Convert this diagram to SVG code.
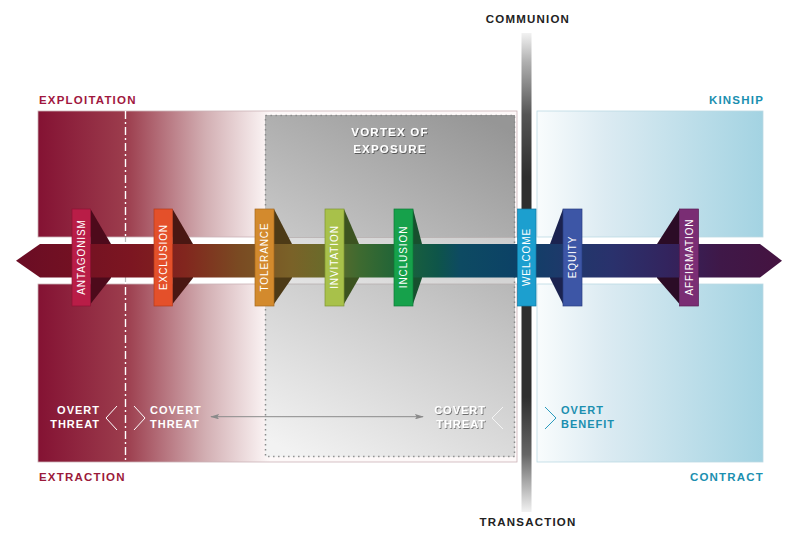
<svg xmlns="http://www.w3.org/2000/svg" width="800" height="539" viewBox="0 0 800 539">
<style>
.hd{font-family:"Liberation Sans",Arial,sans-serif;font-weight:bold;font-size:11.5px;letter-spacing:1.2px}
.lb{font-family:"Liberation Sans",Arial,sans-serif;font-weight:bold;font-size:11px;letter-spacing:1px}
.pt{font-family:"Liberation Sans",Arial,sans-serif;font-size:10px;letter-spacing:0.9px;fill:#fff;text-anchor:middle}
.pill{stroke-width:0.7}
.chev{fill:none;stroke-width:1}
</style>
<defs>
<linearGradient id="gLeft" x1="38" y1="0" x2="270" y2="0" gradientUnits="userSpaceOnUse">
<stop offset="0" stop-color="#841233"/>
<stop offset="0.38" stop-color="#9c3d4d"/>
<stop offset="0.72" stop-color="#d2aeb2"/>
<stop offset="1" stop-color="#fdf8f8"/>
</linearGradient>
<linearGradient id="gRight" x1="537" y1="0" x2="763" y2="0" gradientUnits="userSpaceOnUse">
<stop offset="0" stop-color="#f9fcfd"/>
<stop offset="0.3" stop-color="#dcebf2"/>
<stop offset="1" stop-color="#a3d3e2"/>
</linearGradient>
<linearGradient id="gGrey" x1="300" y1="457" x2="480" y2="115" gradientUnits="userSpaceOnUse">
<stop offset="0" stop-color="#f2f2f2"/>
<stop offset="0.5" stop-color="#c6c6c6"/>
<stop offset="1" stop-color="#969696"/>
</linearGradient>
<linearGradient id="gBar" x1="0" y1="33" x2="0" y2="512" gradientUnits="userSpaceOnUse">
<stop offset="0" stop-color="#f2f2f2"/>
<stop offset="0.06" stop-color="#b0b0b0"/>
<stop offset="0.17" stop-color="#555"/>
<stop offset="0.3" stop-color="#2e2e2e"/>
<stop offset="0.76" stop-color="#2e2e2e"/>
<stop offset="0.88" stop-color="#666"/>
<stop offset="1" stop-color="#f2f2f2"/>
</linearGradient>
<linearGradient id="gBand" x1="16" y1="0" x2="782" y2="0" gradientUnits="userSpaceOnUse">
<stop offset="0" stop-color="#6a0c24"/>
<stop offset="0.15" stop-color="#7c1621"/>
<stop offset="0.22" stop-color="#82261e"/>
<stop offset="0.29" stop-color="#7a4a22"/>
<stop offset="0.36" stop-color="#7a6228"/>
<stop offset="0.4" stop-color="#6b6a2a"/>
<stop offset="0.45" stop-color="#3d6a30"/>
<stop offset="0.5" stop-color="#1e6438"/>
<stop offset="0.55" stop-color="#0e5549"/>
<stop offset="0.58" stop-color="#0d4a62"/>
<stop offset="0.65" stop-color="#0c4266"/>
<stop offset="0.72" stop-color="#1f386b"/>
<stop offset="0.78" stop-color="#2a316c"/>
<stop offset="0.85" stop-color="#33245e"/>
<stop offset="0.92" stop-color="#3f1848"/>
<stop offset="1" stop-color="#451340"/>
</linearGradient>
<filter id="sh" x="-20%" y="-50%" width="140%" height="200%">
<feDropShadow dx="0.8" dy="0.9" stdDeviation="0.6" flood-color="#000" flood-opacity="0.55"/>
</filter>
<marker id="ah" viewBox="0 0 10 6" refX="9" refY="3" markerWidth="9" markerHeight="5.5" orient="auto-start-reverse" markerUnits="userSpaceOnUse">
<path d="M0,0 L10,3 L0,6 L2,3 Z" fill="#8a8a8a"/>
</marker>
</defs>

<!-- background panels -->
<g id="panels">
<rect x="38" y="111" width="479" height="126" fill="url(#gLeft)" stroke="#cbb2b6" stroke-width="0.8"/>
<rect x="38" y="284" width="479" height="178" fill="url(#gLeft)" stroke="#cbb2b6" stroke-width="0.8"/>
<rect x="537" y="111" width="226" height="126" fill="url(#gRight)" stroke="#bcd9e3" stroke-width="0.8"/>
<rect x="537" y="284" width="226" height="178" fill="url(#gRight)" stroke="#bcd9e3" stroke-width="0.8"/>
<line x1="125.5" y1="111" x2="125.5" y2="462" stroke="#fff" stroke-width="1.4" stroke-dasharray="8 3 2 3"/>
<line x1="125.5" y1="237" x2="125.5" y2="284" stroke="#bbb" stroke-width="1.2" stroke-dasharray="5 3"/>
</g>

<g id="vortex">
<rect x="265" y="115" width="250" height="342" fill="url(#gGrey)"/>
<rect x="265" y="237.5" width="250" height="46.5" fill="#fff" opacity="0.4"/>
<line x1="265" y1="237.5" x2="515" y2="237.5" stroke="#b8b0b0" stroke-width="0.8"/>
<line x1="265" y1="284" x2="515" y2="284" stroke="#b8b0b0" stroke-width="0.8"/>
<rect x="265.5" y="115.5" width="249" height="341" fill="none" stroke="#8a8a8a" stroke-width="1.5" stroke-dasharray="1.4 3.6"/>
<g class="hd" fill="#fff" text-anchor="middle" filter="url(#sh)">
<text x="390" y="136">VORTEX OF</text>
<text x="390" y="152.5">EXPOSURE</text>
</g>
</g>

<!-- axis -->
<g id="axis">
<rect x="521.5" y="33" width="10" height="479" fill="url(#gBar)"/>
<text class="hd" x="528" y="23.3" fill="#222" text-anchor="middle" font-size="10.5" letter-spacing="2.2">COMMUNION</text>
<text class="hd" x="528" y="526" fill="#222" text-anchor="middle" font-size="11" letter-spacing="2.2">TRANSACTION</text>
</g>

<!-- corner labels -->
<g id="corner-labels" class="hd">
<text x="39" y="104" fill="#a0173e">EXPLOITATION</text>
<text x="39" y="480.5" fill="#9b1a3a">EXTRACTION</text>
<text x="764" y="103.5" fill="#1b8fb0" text-anchor="end">KINSHIP</text>
<text x="764" y="480.5" fill="#1b8fb0" text-anchor="end">CONTRACT</text>
</g>

<!-- pill shadows -->
<g id="shadows">
<polygon points="90.5,209 111,244 111,278 90.5,304" fill="#4d0a1b"/>
<polygon points="172.5,209 193,244 193,278 172.5,304" fill="#4a1712"/>
<polygon points="274,209 292,244 292,278 274,304" fill="#4d3a16"/>
<polygon points="344,209 359,244 359,278 344,304" fill="#3c5320"/>
<polygon points="413,209 422,244 422,278 413,304" fill="#17502e"/>
<polygon points="563,209 550,244 550,278 563,304" fill="#1b2350"/>
<polygon points="679.5,209 657,244 657,278 679.5,304" fill="#2b0c26"/>
</g>

<!-- main band -->
<g id="band">
<polygon points="16,260.7 40,244 760,244 782,260.7 760,277.5 40,277.5" fill="url(#gBand)"/>
</g>

<!-- pills -->
<g id="node-antagonism"><rect class="pill" x="72" y="209" width="18.5" height="97" fill="#b91d47" stroke="#8e1234"/><text class="pt" transform="translate(84.8,257) rotate(-90)">ANTAGONISM</text></g>
<g id="node-exclusion"><rect class="pill" x="154" y="209" width="18.5" height="97" fill="#e4502a" stroke="#b43a1c"/><text class="pt" transform="translate(166.8,257) rotate(-90)">EXCLUSION</text></g>
<g id="node-tolerance"><rect class="pill" x="255" y="209" width="19" height="97" fill="#d38a2d" stroke="#a5681e"/><text class="pt" transform="translate(268,257) rotate(-90)">TOLERANCE</text></g>
<g id="node-invitation"><rect class="pill" x="325" y="209" width="19" height="97" fill="#a8c14a" stroke="#7e9632"/><text class="pt" transform="translate(338,257) rotate(-90)">INVITATION</text></g>
<g id="node-inclusion"><rect class="pill" x="394" y="209" width="19" height="97" fill="#16a14b" stroke="#0e7a37"/><text class="pt" transform="translate(407,257) rotate(-90)">INCLUSION</text></g>
<g id="node-welcome"><rect class="pill" x="517.5" y="209" width="18.5" height="97" fill="#1c9fcf" stroke="#127aa1"/><text class="pt" transform="translate(530.3,257) rotate(-90)">WELCOME</text></g>
<g id="node-equity"><rect class="pill" x="563" y="209" width="19" height="97" fill="#3d56a6" stroke="#2a3e80"/><text class="pt" transform="translate(576,257) rotate(-90)">EQUITY</text></g>
<g id="node-affirmation"><rect class="pill" x="679.5" y="209" width="19" height="97" fill="#7a2d74" stroke="#5a1d55"/><text class="pt" transform="translate(692.5,257) rotate(-90)">AFFIRMATION</text></g>

<!-- threat / benefit labels -->
<g id="label-overt-threat" class="lb" fill="#fff" text-anchor="end">
<text x="100" y="414">OVERT</text>
<text x="100" y="428">THREAT</text>
<polyline class="chev" stroke="#fff" points="117,406 106,418 117,430"/>
</g>
<g id="label-covert-threat-left" class="lb" fill="#fff">
<polyline class="chev" stroke="#fff" points="134,406 145,418 134,430"/>
<text x="150" y="414">COVERT</text>
<text x="150" y="428">THREAT</text>
</g>
<g id="label-covert-threat-right" class="lb" fill="#fff" text-anchor="end">
<g filter="url(#sh)">
<text x="486" y="414">COVERT</text>
<text x="486" y="428">THREAT</text>
</g>
<polyline class="chev" stroke="#f4f4f4" points="503,407 492,418 503,429"/>
</g>
<g id="label-overt-benefit" class="lb" fill="#1b8fb0">
<polyline class="chev" stroke="#2a9bbd" points="545,407 556,418 545,429"/>
<text x="561" y="413.5">OVERT</text>
<text x="561" y="428">BENEFIT</text>
</g>

<!-- connectors -->
<g id="connectors">
<line x1="211" y1="416.7" x2="423" y2="416.7" stroke="#8a8a8a" stroke-width="1" marker-start="url(#ah)" marker-end="url(#ah)"/>
</g>
</svg>
